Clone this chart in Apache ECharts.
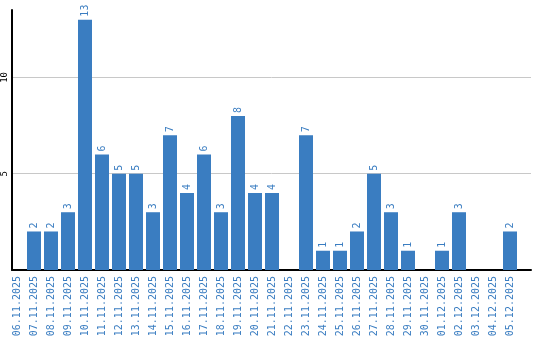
<!DOCTYPE html>
<html><head><meta charset="utf-8">
<script src="https://cdn.jsdelivr.net/npm/echarts@6/dist/echarts.min.js"></script>
<style>html,body{margin:0;padding:0;background:#fff}#c{width:540px;height:340px}</style>
</head><body><div id="c"></div>
<script>
var categories = ["06.11.2025","07.11.2025","08.11.2025","09.11.2025","10.11.2025","11.11.2025","12.11.2025","13.11.2025","14.11.2025","15.11.2025","16.11.2025","17.11.2025","18.11.2025","19.11.2025","20.11.2025","21.11.2025","22.11.2025","23.11.2025","24.11.2025","25.11.2025","26.11.2025","27.11.2025","28.11.2025","29.11.2025","30.11.2025","01.12.2025","02.12.2025","03.12.2025","04.12.2025","05.12.2025"];
var values = [0,2,2,3,13,6,5,5,3,7,4,6,3,8,4,4,0,7,1,1,2,5,3,1,0,1,3,0,0,2];
var yTicks = [5,10];

var blue = '#3a7dc1';
var mono = '"DejaVu Sans Mono", monospace';
var chart = echarts.init(document.getElementById('c'), null, {renderer:'canvas'});
chart.setOption({
  animation:false,
  grid:[
    {left:10, right:9, top:10, bottom:70},
    {left:8.5, width:510, top:10, bottom:70}
  ],
  xAxis:[
    {gridIndex:0, type:'value', min:0, max:1, axisLine:{show:true, onZero:false, lineStyle:{color:'#000', width:2}}, axisTick:{show:false}, axisLabel:{show:false}, splitLine:{show:false}},
    {gridIndex:1, type:'category', data:categories, boundaryGap:true,
     axisLine:{show:false}, axisTick:{show:false},
     axisLabel:{interval:0, rotate:90, margin:6, color:blue, fontFamily:mono, fontSize:10}}
  ],
  yAxis:[
    {gridIndex:0, type:'value', min:0, max:13.5, interval:5,
     axisLine:{show:true, lineStyle:{color:'#000', width:2}}, axisTick:{show:false},
     splitLine:{show:true, lineStyle:{color:['rgba(0,0,0,0)','#c8c8c8','#c8c8c8','rgba(0,0,0,0)'], width:1}},
     axisLabel:{showMinLabel:false, rotate:90, margin:3, color:'#000', fontFamily:mono, fontSize:9,
       formatter:function(v){return yTicks.indexOf(v)>=0? String(v):'';}}},
    {gridIndex:1, type:'value', min:0, max:13.5, show:false}
  ],
  series:[{
    type:'bar', xAxisIndex:1, yAxisIndex:1, data:values, barWidth:14,
    itemStyle:{color:blue},
    label:{show:true, position:'top', rotate:90, align:'left', verticalAlign:'middle', distance:3,
      color:blue, fontFamily:mono, fontSize:10,
      formatter:function(p){return p.value? String(p.value):'';}}
  }]
});
</script></body></html>
